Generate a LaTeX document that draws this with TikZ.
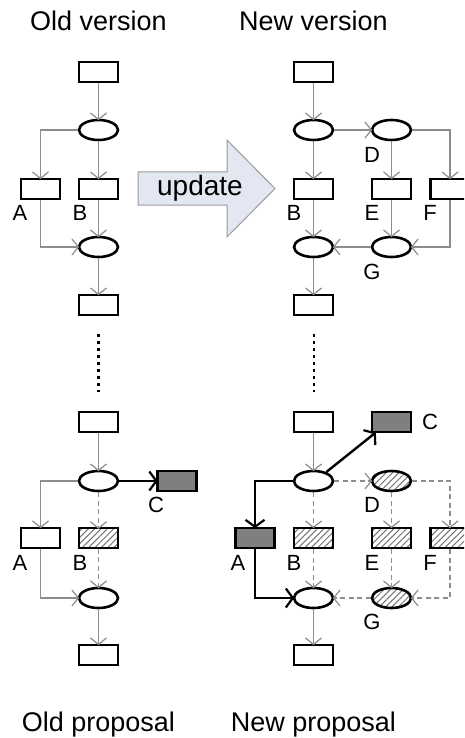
\documentclass[tikz,border=0pt]{standalone}
\usepackage{fontspec}
\setmainfont{Liberation Sans}
\usetikzlibrary{arrows.meta,shapes.geometric,patterns.meta}
\definecolor{linkgray}{HTML}{8C8C8C}
\definecolor{darkfill}{HTML}{7F7F7F}
\definecolor{updfill}{HTML}{E2E7F2}
\definecolor{updedge}{HTML}{9A9A9A}
\begin{document}
\begin{tikzpicture}[x=1pt,y=-1pt,
  box/.style={draw=black,line width=2.6pt,rectangle,minimum width=39pt,minimum height=20pt,inner sep=0pt,fill=white},
  ell/.style={draw=black,line width=2.6pt,ellipse,minimum width=39pt,minimum height=20pt,inner sep=0pt,fill=white},
  hatched/.style={pattern={Lines[angle=45,distance=4.5pt,line width=1pt]},pattern color=black!55},
  darkbox/.style={fill=darkfill},
  tip/.style={-{Straight Barb[length=6.5pt,width=16pt,line width=1.2pt]}},
  flow/.style={draw=linkgray,line width=1.4pt,tip,shorten >=-1.5pt},
  flowdash/.style={flow,dash pattern=on 5pt off 3.5pt},
  strong/.style={draw=black,line width=2.4pt,shorten >=-1.5pt,-{Straight Barb[length=7pt,width=19pt,line width=2.2pt]}},
  lbl/.style={font=\fontsize{22}{24}\selectfont,inner sep=0pt},
  title/.style={font=\fontsize{27}{30}\selectfont,inner sep=0pt,anchor=base},
  dots/.style={line width=2.6pt,dash pattern=on 2.6pt off 4.4pt}]
\useasboundingbox (0,0) rectangle (464,738);
\clip (0,0) rectangle (464,738);

% titles
\node[title] (t1) at (98.5,31) {Old version};
\node[title] (t2) at (313.5,31) {New version};
\node[title] (t3) at (98.5,731) {Old proposal};
\node[title] (t4) at (313.5,731) {New proposal};

% update arrow
\draw[updedge,fill=updfill,line width=1pt]
  (138,172) -- (227,172) -- (227,140) -- (275,188.5) -- (227,237) -- (227,205) -- (138,205) -- cycle;
\node[font=\fontsize{28}{30}\selectfont,inner sep=0pt] (upd) at (200,188) {update};

% ---------- old version ----------
\node[box] (oT) at (98.5,72) {};
\node[ell] (oE1) at (98.5,130) {};
\node[box] (oA) at (40.5,189) {};
\node[box] (oB) at (98.5,189) {};
\node[ell] (oE2) at (98.5,247) {};
\node[box] (oBot) at (98.5,305) {};
\node[lbl] (oAl) at (20,213) {A};
\node[lbl] (oBl) at (80,213) {B};
\draw[flow] (oT) -- (oE1);
\draw[flow] (oE1.west) -| (oA.north);
\draw[flow] (oE1) -- (oB);
\draw[flow] (oA.south) |- (oE2.west);
\draw[flow] (oB) -- (oE2);
\draw[flow] (oE2) -- (oBot);

% ---------- new version ----------
\node[box] (nT) at (313.5,72) {};
\node[ell] (nE1) at (313.5,130) {};
\node[ell] (nD) at (391.5,130) {};
\node[box] (nB) at (313.5,189) {};
\node[box] (nE) at (391.5,189) {};
\node[box] (nF) at (450,189) {};
\node[ell] (nE2) at (313.5,247) {};
\node[ell] (nG) at (391.5,247) {};
\node[box] (nBot) at (313.5,305) {};
\node[lbl] (nDl) at (372,155) {D};
\node[lbl] (nBl) at (294,213) {B};
\node[lbl] (nEl) at (372,213) {E};
\node[lbl] (nFl) at (430,213) {F};
\node[lbl] (nGl) at (372,272) {G};
\draw[flow] (nT) -- (nE1);
\draw[flow] (nE1) -- (nD);
\draw[flow] (nD.east) -| (nF.north);
\draw[flow] (nE1) -- (nB);
\draw[flow] (nD) -- (nE);
\draw[flow] (nB) -- (nE2);
\draw[flow] (nE) -- (nG);
\draw[flow] (nF.south) |- (nG.east);
\draw[flow] (nG) -- (nE2);
\draw[flow] (nE2) -- (nBot);

% ellipsis marks
\coordinate (d1a) at (98.5,334);
\coordinate (d1b) at (98.5,392);
\coordinate (d2a) at (314,334);
\coordinate (d2b) at (314,392);
\draw[dots] (d1a) -- (d1b);
\draw[dots] (d2a) -- (d2b);

% ---------- old proposal ----------
\node[box] (pT) at (98.5,422) {};
\node[ell] (pE1) at (98.5,481) {};
\node[box,darkbox] (pC) at (177,481) {};
\node[box] (pA) at (40.5,538) {};
\node[box,hatched] (pB) at (98.5,538) {};
\node[ell] (pE2) at (98.5,598) {};
\node[box] (pBot) at (98.5,655) {};
\node[lbl] (pCl) at (156,505) {C};
\node[lbl] (pAl) at (20,563) {A};
\node[lbl] (pBl) at (80,563) {B};
\draw[flow] (pT) -- (pE1);
\draw[flow] (pE1.west) -| (pA.north);
\draw[flowdash] (pE1) -- (pB);
\draw[flow] (pA.south) |- (pE2.west);
\draw[flowdash] (pB) -- (pE2);
\draw[flow] (pE2) -- (pBot);
\draw[strong] (pE1) -- (pC);

% ---------- new proposal ----------
\node[box] (qT) at (313.5,422) {};
\node[box,darkbox] (qC) at (391.5,422) {};
\node[ell] (qE1) at (313.5,481) {};
\node[ell,hatched] (qD) at (391.5,481) {};
\node[box,darkbox] (qA) at (255,538) {};
\node[box,hatched] (qB) at (313.5,538) {};
\node[box,hatched] (qE) at (391.5,538) {};
\node[box,hatched] (qF) at (450,538) {};
\node[ell] (qE2) at (313.5,598) {};
\node[ell,hatched] (qG) at (391.5,598) {};
\node[box] (qBot) at (313.5,655) {};
\node[lbl] (qCl) at (430,422) {C};
\node[lbl] (qDl) at (372,505) {D};
\node[lbl] (qAl) at (238,563) {A};
\node[lbl] (qBl) at (294,563) {B};
\node[lbl] (qEl) at (372,563) {E};
\node[lbl] (qFl) at (430,563) {F};
\node[lbl] (qGl) at (372,622) {G};
\draw[flow] (qT) -- (qE1);
\draw[flowdash] (qE1) -- (qD);
\draw[flowdash] (qD.east) -| (qF.north);
\draw[flowdash] (qE1) -- (qB);
\draw[flowdash] (qD) -- (qE);
\draw[flowdash] (qB) -- (qE2);
\draw[flowdash] (qE) -- (qG);
\draw[flowdash] (qF.south) |- (qG.east);
\draw[flowdash] (qG) -- (qE2);
\draw[flow] (qE2) -- (qBot);
\draw[strong] (qE1.west) -| (qA.north);
\draw[strong] (qA.south) |- (qE2.west);
\draw[strong] (qE1.35) -- ([xshift=4pt]qC.south west);
\end{tikzpicture}
\end{document}
